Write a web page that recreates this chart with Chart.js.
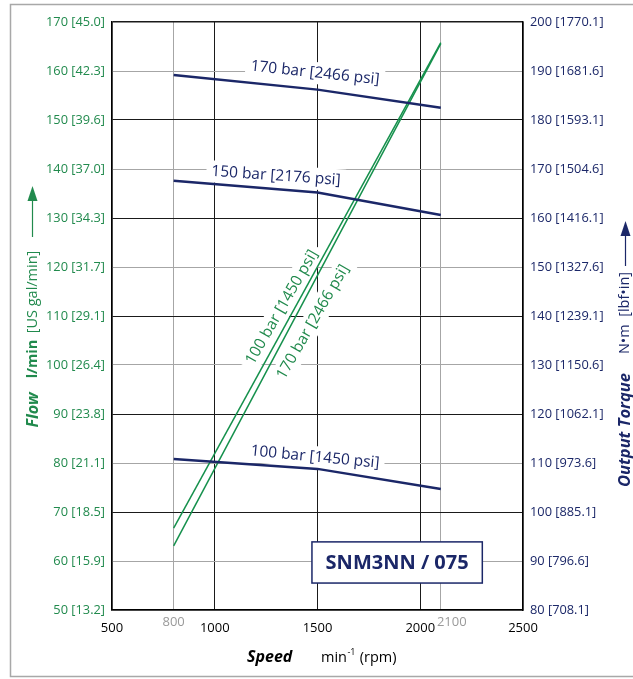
<!DOCTYPE html>
<html>
<head>
<meta charset="utf-8">
<script src="https://cdn.jsdelivr.net/npm/chart.js@4.4.1/dist/chart.umd.min.js"></script>
<style>
  html, body { margin: 0; padding: 0; background: #fff; }
  canvas { display: block; }
</style>
</head>
<body>
<canvas id="c" width="633" height="679"></canvas>
<script>
// ---------------- data ----------------
const torqueSpeeds = [800, 1500, 2100];
const torque170bar = [189.2, 186.2, 182.5];
const torque150bar = [167.6, 165.2, 160.6];
const torque100bar = [110.8, 108.8, 104.7];

const flowSpeeds = [800, 2100];
const flow100bar = [66.7, 165.8];
const flow170bar = [63.1, 165.6];

const xTicks = [500, 1000, 1500, 2000, 2500];
const xMarkTicks = [800, 2100];

const flowTicks = [50, 60, 70, 80, 90, 100, 110, 120, 130, 140, 150, 160, 170];
const flowTickLabels = ['50 [13.2]', '60 [15.9]', '70 [18.5]', '80 [21.1]', '90 [23.8]', '100 [26.4]',
  '110 [29.1]', '120 [31.7]', '130 [34.3]', '140 [37.0]', '150 [39.6]', '160 [42.3]', '170 [45.0]'];

const torqueTicks = [80, 90, 100, 110, 120, 130, 140, 150, 160, 170, 180, 190, 200];
const torqueTickLabels = ['80 [708.1]', '90 [796.6]', '100 [885.1]', '110 [973.6]', '120 [1062.1]',
  '130 [1150.6]', '140 [1239.1]', '150 [1327.6]', '160 [1416.1]', '170 [1504.6]', '180 [1593.1]',
  '190 [1681.6]', '200 [1770.1]'];

const modelName = 'SNM3NN / 075';

// ---------------- styles ----------------
const NAVY = '#1b2768';
const GREEN = '#15904c';
const GREEN_TXT = '#218a4d';
const FONT = '"Open Sans", "Noto Sans", sans-serif';

const curveLabels = [
  { text: '170 bar [2466 psi]', x: 1488, y: 189.6, axis: 'yR', angle: 6, color: NAVY },
  { text: '150 bar [2176 psi]', x: 1298, y: 168.6, axis: 'yR', angle: 4, color: NAVY },
  { text: '100 bar [1450 psi]', x: 1488, y: 111.2, axis: 'yR', angle: 5.5, color: NAVY },
  { text: '100 bar [1450 psi]', x: 1327, y: 111.8, axis: 'y', angle: -60, color: GREEN_TXT },
  { text: '170 bar [2466 psi]', x: 1478, y: 108.8, axis: 'y', angle: -60, color: GREEN_TXT }
];
const modelBox = { x1: 1473, x2: 2302, y1: 63.9, y2: 55.5 };

const pts = (xs, ys) => xs.map((x, i) => ({ x: x, y: ys[i] }));

const overlayPlugin = {
  id: 'overlay',
  beforeDatasetsDraw(chart) {
    const ctx = chart.ctx;
    const xs = chart.scales.x;
    ctx.save();
    ctx.font = '15.5px ' + FONT;
    curveLabels.forEach(l => {
      const px = xs.getPixelForValue(l.x);
      const py = chart.scales[l.axis].getPixelForValue(l.y);
      const w = ctx.measureText(l.text).width;
      ctx.save();
      ctx.translate(px, py);
      ctx.rotate(l.angle * Math.PI / 180);
      ctx.fillStyle = '#fff';
      ctx.fillRect(-w / 2 - 5, -11, w + 10, 22);
      ctx.restore();
    });
    const bx1 = xs.getPixelForValue(modelBox.x1), bx2 = xs.getPixelForValue(modelBox.x2);
    const by1 = chart.scales.y.getPixelForValue(modelBox.y1), by2 = chart.scales.y.getPixelForValue(modelBox.y2);
    ctx.fillStyle = '#fff';
    ctx.fillRect(bx1, by1, bx2 - bx1, by2 - by1);
    ctx.strokeStyle = NAVY;
    ctx.lineWidth = 1.5;
    ctx.strokeRect(bx1, by1, bx2 - bx1, by2 - by1);
    ctx.fillStyle = NAVY;
    ctx.font = 'bold 20px ' + FONT;
    ctx.textAlign = 'center';
    ctx.textBaseline = 'middle';
    ctx.fillText(modelName, (bx1 + bx2) / 2, (by1 + by2) / 2 + 1);
    ctx.font = '15.5px ' + FONT;
    curveLabels.forEach(l => {
      const px = xs.getPixelForValue(l.x);
      const py = chart.scales[l.axis].getPixelForValue(l.y);
      ctx.save();
      ctx.translate(px, py);
      ctx.rotate(l.angle * Math.PI / 180);
      ctx.fillStyle = l.color;
      ctx.textAlign = 'center';
      ctx.textBaseline = 'middle';
      ctx.fillText(l.text, 0, 0);
      ctx.restore();
    });
    ctx.restore();
  },
  afterDraw(chart) {
    const ctx = chart.ctx;
    const xs = chart.scales.x;
    ctx.save();
    ctx.fillStyle = '#9a9a9a';
    ctx.font = '13px ' + FONT;
    ctx.textAlign = 'center';
    ctx.textBaseline = 'middle';
    ctx.fillText(String(xMarkTicks[0]), xs.getPixelForValue(xMarkTicks[0]), 622);
    ctx.fillText(String(xMarkTicks[1]), xs.getPixelForValue(xMarkTicks[1]) + 11, 622);

    ctx.fillStyle = '#000';
    ctx.textAlign = 'left';
    ctx.textBaseline = 'alphabetic';
    ctx.font = 'italic bold 16px ' + FONT;
    ctx.fillText('Speed', 247, 662);
    ctx.font = '14.5px ' + FONT;
    ctx.fillText('min', 321, 662);
    let w = ctx.measureText('min').width;
    ctx.font = '9px ' + FONT;
    ctx.fillText('-1', 321 + w + 0.5, 655);
    let w2 = ctx.measureText('-1').width;
    ctx.font = '14.5px ' + FONT;
    ctx.fillText(' (rpm)', 321 + w + w2 + 1, 662);

    const drawRot = (txt, font, color, x, y) => {
      ctx.save();
      ctx.translate(x, y);
      ctx.rotate(-Math.PI / 2);
      ctx.font = font;
      ctx.fillStyle = color;
      ctx.textAlign = 'center';
      ctx.textBaseline = 'middle';
      ctx.fillText(txt, 0, 0);
      ctx.restore();
    };
    drawRot('Flow', 'italic bold 16px ' + FONT, GREEN_TXT, 33, 410);
    drawRot('l/min', 'bold 14.5px ' + FONT, GREEN_TXT, 33, 359);
    drawRot('[US gal/min]', '14.5px ' + FONT, GREEN_TXT, 33, 292);
    ctx.strokeStyle = GREEN_TXT;
    ctx.fillStyle = GREEN_TXT;
    ctx.lineWidth = 1.2;
    ctx.beginPath(); ctx.moveTo(32.5, 237); ctx.lineTo(32.5, 198); ctx.stroke();
    ctx.beginPath(); ctx.moveTo(32.5, 186); ctx.lineTo(37.5, 201); ctx.lineTo(27.5, 201); ctx.closePath(); ctx.fill();

    drawRot('Output Torque', 'italic bold 16.5px ' + FONT, NAVY, 625, 430);
    drawRot('N•m  [lbf•in]', '14.5px ' + FONT, NAVY, 625, 313);
    ctx.strokeStyle = NAVY;
    ctx.fillStyle = NAVY;
    ctx.beginPath(); ctx.moveTo(625.5, 266); ctx.lineTo(625.5, 233); ctx.stroke();
    ctx.beginPath(); ctx.moveTo(625.5, 221); ctx.lineTo(630.5, 236); ctx.lineTo(620.5, 236); ctx.closePath(); ctx.fill();

    ctx.strokeStyle = '#a8a8a8';
    ctx.lineWidth = 1.5;
    ctx.beginPath();
    ctx.moveTo(640, 4.5); ctx.lineTo(10.5, 4.5); ctx.lineTo(10.5, 676.5); ctx.lineTo(640, 676.5);
    ctx.stroke();
    ctx.restore();
  }
};

new Chart(document.getElementById('c'), {
  type: 'line',
  data: {
    datasets: [
      { label: '170 bar torque', data: pts(torqueSpeeds, torque170bar), yAxisID: 'yR', borderColor: NAVY, borderWidth: 2.5 },
      { label: '150 bar torque', data: pts(torqueSpeeds, torque150bar), yAxisID: 'yR', borderColor: NAVY, borderWidth: 2.5 },
      { label: '100 bar torque', data: pts(torqueSpeeds, torque100bar), yAxisID: 'yR', borderColor: NAVY, borderWidth: 2.5 },
      { label: '100 bar flow', data: pts(flowSpeeds, flow100bar), yAxisID: 'y', borderColor: GREEN, borderWidth: 1.5 },
      { label: '170 bar flow', data: pts(flowSpeeds, flow170bar), yAxisID: 'y', borderColor: GREEN, borderWidth: 1.5 }
    ]
  },
  options: {
    responsive: false,
    animation: false,
    events: [],
    elements: { point: { radius: 0 }, line: { tension: 0, fill: false } },
    layout: { padding: { top: 22, left: 0, right: 0, bottom: 0 } },
    plugins: { legend: { display: false }, tooltip: { enabled: false } },
    scales: {
      x: {
        type: 'linear', position: 'bottom', min: 500, max: 2500,
        afterBuildTicks: s => { s.ticks = [500, 800, 1000, 1500, 2000, 2100, 2500].map(v => ({ value: v })); },
        afterFit: s => { s.height = 69; },
        border: { display: true, color: '#000', width: 1.5 },
        grid: {
          drawTicks: false,
          color: c => (c.tick && xMarkTicks.includes(c.tick.value)) ? '#a6a6a6' : '#1a1a1a',
          lineWidth: c => (c.tick && (c.tick.value === 500 || c.tick.value === 2500)) ? 1.5 : 1
        },
        ticks: {
          padding: 10, color: '#000', font: { family: FONT, size: 13 }, maxRotation: 0, autoSkip: false,
          callback: v => xTicks.includes(v) ? String(v) : ''
        }
      },
      y: {
        type: 'linear', position: 'left', min: 50, max: 170,
        afterBuildTicks: s => { s.ticks = flowTicks.map(v => ({ value: v })); },
        afterFit: s => { s.width = 112; },
        border: { display: true, color: '#000', width: 1.5 },
        grid: {
          drawTicks: false,
          color: c => (c.tick && (c.tick.value / 10) % 2 === 0) ? '#a6a6a6' : '#1a1a1a',
          lineWidth: c => (c.tick && (c.tick.value === 170 || c.tick.value === 50)) ? 1.5 : 1
        },
        ticks: {
          padding: 7, color: GREEN_TXT, font: { family: FONT, size: 12.8 }, autoSkip: false,
          callback: v => { const i = flowTicks.indexOf(v); return i >= 0 ? flowTickLabels[i] : ''; }
        }
      },
      yR: {
        type: 'linear', position: 'right', min: 80, max: 200,
        afterBuildTicks: s => { s.ticks = torqueTicks.map(v => ({ value: v })); },
        afterFit: s => { s.width = 110; },
        border: { display: true, color: '#000', width: 1.5 },
        grid: { drawOnChartArea: false, drawTicks: false },
        ticks: {
          padding: 7, color: NAVY, font: { family: FONT, size: 12.8 }, autoSkip: false,
          callback: v => { const i = torqueTicks.indexOf(v); return i >= 0 ? torqueTickLabels[i] : ''; }
        }
      }
    }
  },
  plugins: [overlayPlugin]
});
</script>
</body>
</html>
